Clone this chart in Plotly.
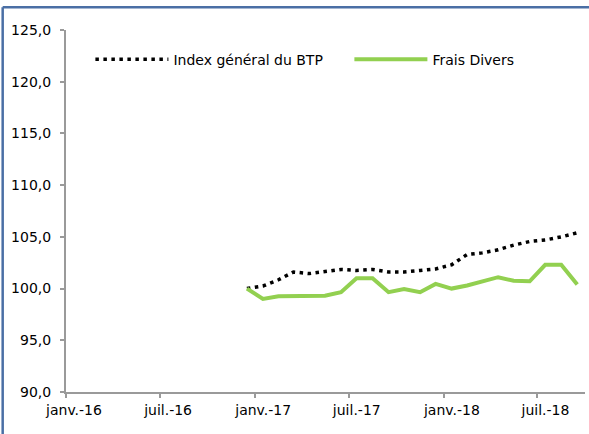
import plotly.graph_objects as go

dates = ["2016-12-16", "2017-01-16", "2017-02-15", "2017-03-16", "2017-04-16", "2017-05-16",
         "2017-06-16", "2017-07-16", "2017-08-16", "2017-09-16", "2017-10-16", "2017-11-16",
         "2017-12-16", "2018-01-16", "2018-02-15", "2018-03-16", "2018-04-16", "2018-05-16",
         "2018-06-16", "2018-07-16", "2018-08-16", "2018-09-16"]

index_btp = [100.0, 100.25, 100.85, 101.6, 101.45, 101.65, 101.85, 101.75, 101.85, 101.6, 101.6,
             101.75, 101.9, 102.3, 103.3, 103.45, 103.75, 104.2, 104.55, 104.7, 105.0, 105.4]

frais_divers = [100.0, 99.0, 99.25, 99.25, 99.25, 99.3, 99.65, 101.0, 101.0, 99.65, 99.95, 99.65,
                100.45, 100.0, 100.3, 100.7, 101.1, 100.75, 100.7, 102.3, 102.3, 100.4]

tick_dates = ["2016-01-01", "2016-07-01", "2017-01-01", "2017-07-01", "2018-01-01", "2018-07-01"]
tick_labels = ["janv.-16", "juil.-16", "janv.-17", "juil.-17", "janv.-18", "juil.-18"]

font_family = "DejaVu Sans"

fig = go.Figure()
fig.add_trace(go.Scatter(
    x=dates, y=index_btp, mode="lines", name="Index général du BTP",
    line=dict(color="#000000", width=3.5, dash="3.5px,4.5px"),
    legendwidth=171,
))
fig.add_trace(go.Scatter(
    x=dates, y=frais_divers, mode="lines", name="Frais Divers",
    line=dict(color="#92D050", width=4),
))

border = dict(color="#4A6FA5", width=2.5)

fig.update_layout(
    width=589, height=434,
    margin=dict(l=66, r=4, t=30, b=42),
    paper_bgcolor="white", plot_bgcolor="white",
    separators=", ",
    font=dict(family=font_family, size=14, color="#000000"),
    showlegend=True,
    legend=dict(
        orientation="h", x=0.047, y=0.918, xanchor="left", yanchor="middle",
        itemwidth=73, font=dict(family=font_family, size=14),
        bgcolor="rgba(0,0,0,0)",
    ),
    xaxis=dict(
        type="date", range=["2016-01-01", "2018-10-01"],
        tickvals=tick_dates, ticktext=tick_labels,
        showgrid=False, zeroline=False,
        showline=True, linecolor="#9a9a9a", linewidth=2,
        ticks="outside", ticklen=4, tickwidth=1.5, tickcolor="#9a9a9a",
        ticklabelshift=8,
        tickfont=dict(family=font_family, size=14),
    ),
    yaxis=dict(
        range=[90, 125], dtick=5, tick0=90, tickformat=".1f",
        showgrid=False, zeroline=False,
        showline=True, linecolor="#9a9a9a", linewidth=2,
        ticks="outside", ticklen=4, tickwidth=1.5, tickcolor="#9a9a9a",
        ticklabelstandoff=6,
        tickfont=dict(family=font_family, size=14),
    ),
    shapes=[
        dict(type="line", xref="paper", yref="paper",
             x0=-0.122, x1=1.05, y0=1.063, y1=1.063, line=border, layer="above"),
        dict(type="line", xref="paper", yref="paper",
             x0=-0.122, x1=-0.122, y0=-0.2, y1=1.063, line=border, layer="above"),
    ],
)

fig.write_html("out.html", config={"displayModeBar": False},
               post_script="document.body.style.margin='0px';")
